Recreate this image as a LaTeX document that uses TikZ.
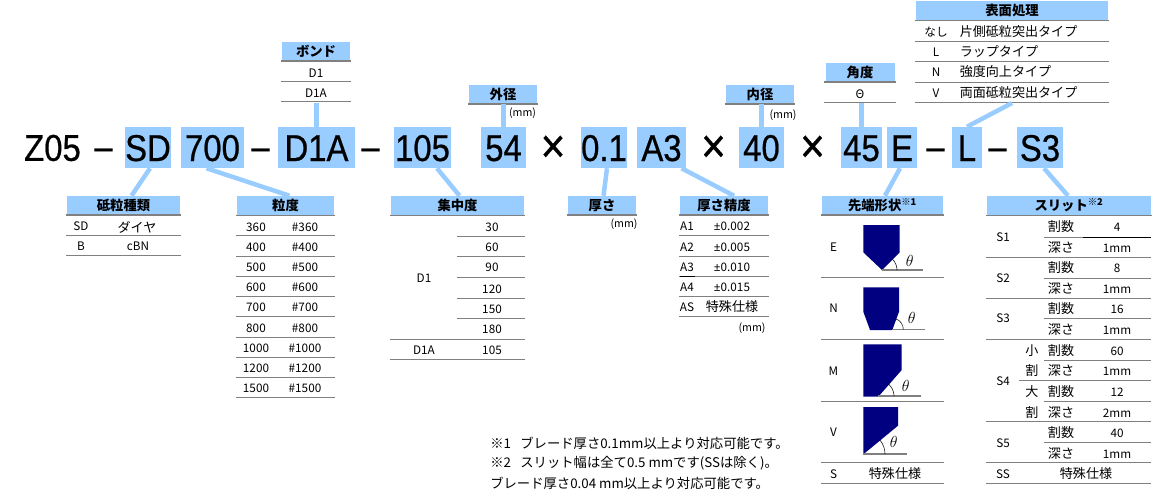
\documentclass[tikz,border=0pt]{standalone}
\usepackage{fontspec}
\setmainfont{Noto Sans CJK JP}
\newfontfamily\codefont[FakeStretch=0.88,FakeBold=0.6]{Liberation Sans}
\newfontfamily\signfont{Noto Sans}
\definecolor{headblue}{RGB}{153,204,255}
\definecolor{tipblue}{RGB}{0,0,128}
\definecolor{rulegray}{RGB}{128,128,128}
\newcommand{\px}{0.75pt}
\tikzset{
  codepart/.style={fill=headblue,inner sep=0pt,minimum height=41*\px,text height=27*\px,text depth=0pt,font=\codefont\fontsize{28}{28}\selectfont},
  codesep/.style={inner sep=0pt,font=\codefont\fontsize{28}{28}\selectfont},
  timesign/.style={inner sep=0pt,font=\codefont\fontsize{36}{36}\selectfont},
  head/.style={fill=headblue,inner sep=0pt,minimum height=19*\px,font=\fontsize{10}{10}\selectfont\bfseries},
  cell/.style={inner sep=0pt,font=\fontsize{8.8}{9}\selectfont},
  jpcell/.style={inner sep=0pt,font=\fontsize{9.8}{10}\selectfont},
  unit/.style={inner sep=0pt,font=\fontsize{8}{8}\selectfont},
  note/.style={inner sep=0pt,anchor=west,font=\fontsize{10}{10}\selectfont},
  rowline/.style={rulegray,line width=1*\px},
  link/.style={headblue,line width=4.5*\px},
  tipshape/.style={fill=tipblue},
  tipbase/.style={rulegray,line width=1.5*\px},
  anglemark/.style={inner sep=0pt,font=\large},
}
\begin{document}
\begin{tikzpicture}[x=\px,y=-\px]
    \useasboundingbox (0,0) rectangle (1152,496);
    % Product code
    \foreach \n/\x/\w/\t in {cSD/148/46/SD,cGrit/212.5/63/700,cBond/316.5/77/D1A,cConc/422.5/57/105,cOuter/503.5/45/54,cThick/604/46/0.1,cTol/661.5/49/A3,cInner/761.5/45/40,cAngle/861.5/41/45,cTip/902/30/E,cSurface/967/30/L,cSlit/1040/46/S3} {
      \node[codepart,minimum width=\w*\px] (\n) at (\x,147.5) {\t};
    }
    \node[codesep] (cZ) at (52.5,148) {Z05};
    \foreach \x [count=\i] in {103.5,260.5,370.5,935.5,997.5} {
      \node[codesep] (dash\i) at (\x,154) {–};
    }
    \foreach \x [count=\i] in {553,713.5,812.5} {
      \node[timesign] (times\i) at (\x,149) {×};
    }
    % Table heads with their rule
    \foreach \n/\x/\y/\w/\r/\t in {hBond/316/51/68/2/ボンド,hOuter/503/94/68/2/外径,hInner/760/94/68/2/内径,hAngle/860/72/69/2/角度,hSurface/1012/10.5/192/1.5/表面処理,hGrain/123.5/205.5/113/2/砥粒種類,hGrit/285.5/205.5/97/1/粒度,hConc/457.5/205.5/133/1/集中度,hThick/602/205.5/68/2/厚さ,hTol/724/205.5/88/2/厚さ精度,hTip/882.5/205.5/121/2/先端形状\textsuperscript{※1},hSlit/1069/205.5/164/1.5/スリット\textsuperscript{※2}} {
      \node[head,minimum width=\w*\px] (\n) at (\x,\y) {\t};
      \draw[rulegray,line width=\r*\px] ([xshift=-1*\px]\n.south west)--([xshift=1*\px]\n.south east);
    }
    % Bond
    \node[cell] (bond1) at (316,73) {D1};
    \node[cell] (bond2) at (316,93) {D1A};
    \foreach \y in {81,101} {
      \draw[rowline] (281,\y)--(351,\y);
    }
    % Outer and inner diameter, thickness units
    \node[unit] (unitOuter) at (522.5,113) {(mm)};
    \node[unit] (unitInner) at (783,115) {(mm)};
    \node[unit] (unitThick) at (624,224) {(mm)};
    % Angle
    \node[cell] (angle1) at (860,94) {Θ};
    \draw[rowline] (824,102)--(896,102);
    % Surface treatment
    \foreach \a/\b/\y [count=\i] in {なし/片側砥粒突出タイプ/32,L/ラップタイプ/52,N/強度向上タイプ/72,V/両面砥粒突出タイプ/93} {
      \node[cell] (surfA\i) at (936,\y) {\a};
      \node[jpcell,anchor=west] (surfB\i) at (959.5,\y) {\b};
    }
    \foreach \y in {41,61,82,102} {
      \draw[rowline] (915,\y)--(1109,\y);
    }
    % Abrasive type
    \node[cell] (grain1) at (81,226) {SD};
    \node[jpcell] (grain2) at (137,227) {ダイヤ};
    \node[cell] (grain3) at (81,246) {B};
    \node[cell] (grain4) at (138,246) {cBN};
    \foreach \y in {235,255} {
      \draw[rowline] (66,\y)--(181,\y);
    }
    % Grit
    \foreach \a/\y [count=\i] in {360/227,400/247,500/267,600/287,700/307,800/328,1000/348,1200/368,1500/388} {
      \node[cell] (gritA\i) at (256,\y) {\a};
      \node[cell] (gritB\i) at (305,\y) {\#\a};
    }
    \foreach \y in {235,256,276,296,316,337,357,377,397} {
      \draw[rowline] (236,\y)--(335,\y);
    }
    % Concentration
    \foreach \a/\y [count=\i] in {30/227,60/247,90/267,120/289,150/309,180/329,105/350} {
      \node[cell] (conc\i) at (492,\y) {\a};
    }
    \node[cell] (concD1) at (424,278) {D1};
    \node[cell] (concD1A) at (424,350) {D1A};
    \foreach \y in {236,256,277,298,318} {
      \draw[rowline] (457,\y)--(525,\y);
    }
    \foreach \y in {339,359} {
      \draw[rowline] (390,\y)--(525,\y);
    }
    % Thickness tolerance
    \foreach \a/\b/\y [count=\i] in {A1/0.002/226,A2/0.005/247,A3/0.010/267,A4/0.015/287} {
      \node[cell] (tolA\i) at (687,\y) {\a};
      \node[cell] (tolB\i) at (732,\y) {{\signfont ±}\b};
    }
    \node[cell] (tolA5) at (687,307) {AS};
    \node[jpcell] (tolB5) at (732,307) {特殊仕様};
    \node[unit] (unitTol) at (752,328) {(mm)};
    \foreach \y in {235,256,276,296,316} {
      \draw[rowline] (679,\y)--(769,\y);
    }
    \draw[black,line width=1*\px] (680,276)--(695,276);
    % Tip shape
    \foreach \a/\y [count=\i] in {E/247,N/308,M/371,V/432,S/474} {
      \node[cell] (tip\i) at (833.5,\y) {\a};
    }
    \node[jpcell] (tipS) at (895,474) {特殊仕様};
    \foreach \y in {277,339,401,462,483} {
      \draw[rowline] (821,\y)--(944,\y);
    }
    \fill[tipshape] (863.3,225)--(899.7,225)--(899.7,252.3)--(882,270)--(863.3,252.3)--cycle;
    \draw[tipbase] (882,270)--(922.7,270);
    \draw (897,270) arc[start angle=0,end angle=-45,radius=15];
    \node[anglemark] (thetaE) at (909.7,260.7) {$\theta$};
    \fill[tipshape] (863.3,287.3)--(899,287.3)--(899,311.7)--(892.3,330)--(870,330)--(863.3,311.7)--cycle;
    \draw[tipbase] (892.3,329.3)--(924.7,329.3);
    \draw (903.3,329.3) arc[start angle=0,end angle=-70,radius=11];
    \node[anglemark] (thetaN) at (911.7,317.7) {$\theta$};
    \fill[tipshape] (863.3,344.3)--(901.7,344.3)--(901.7,370)--(878.3,396.7)--(863.3,396.7)--cycle;
    \draw[tipbase] (878.3,396)--(920.7,396);
    \draw (894,396) arc[start angle=0,end angle=-49,radius=15.7];
    \node[anglemark] (thetaM) at (905.7,385.7) {$\theta$};
    \fill[tipshape] (863.3,407)--(898,407)--(898,425.7)--(863.3,454.3)--cycle;
    \draw[tipbase] (863.3,454)--(906.7,454);
    \draw (885,454) arc[start angle=0,end angle=-40,radius=21.7];
    \node[anglemark] (thetaV) at (893.7,442.3) {$\theta$};
    % Slit
    \foreach \a/\y [count=\i] in {S1/237,S2/278,S3/318,S4/381,S5/443,SS/474} {
      \node[cell] (slit\i) at (1003,\y) {\a};
    }
    \foreach \a/\b/\y [count=\i] in {割数/4/227,深さ/1mm/248,割数/8/268,深さ/1mm/289,割数/16/309,深さ/1mm/330,割数/60/351,深さ/1mm/371,割数/12/392,深さ/2mm/413,割数/40/433,深さ/1mm/454} {
      \node[jpcell] (slitA\i) at (1061,\y) {\a};
      \node[cell] (slitB\i) at (1117,\y) {\b};
    }
    \foreach \a/\y [count=\i] in {小/351,割/371,大/392,割/413} {
      \node[jpcell] (slitC\i) at (1032,\y) {\a};
    }
    \node[jpcell] (slitS) at (1086,474) {特殊仕様};
    \foreach \y in {257,298,339,421,462,483} {
      \draw[rowline] (986,\y)--(1151,\y);
    }
    \foreach \y in {278,318,360,401,442} {
      \draw[rowline] (1044,\y)--(1151,\y);
    }
    \draw[rowline] (1019,380)--(1151,380);
    \draw[rowline] (1044,237)--(1083,237);
    \draw[black,line width=1*\px] (1083,237)--(1151,237);
    % Notes
    \node[note] (note1) at (490,443) {※1\hspace{7pt}ブレード厚さ0.1mm以上より対応可能です。};
    \node[note] (note2) at (490,463) {※2\hspace{7pt}スリット幅は全て0.5 mmです(SSは除く)。};
    \node[note] (note3) at (490,483) {ブレード厚さ0.04 mm以上より対応可能です。};
    % Links from the code to the tables
    \draw[link] ([xshift=2*\px]cSD.south)--([xshift=8*\px]hGrain.north);
    \draw[link] ([xshift=-6*\px]cGrit.south)--([xshift=4*\px]hGrit.north);
    \draw[link] ([xshift=14.5*\px]cConc.south)--([xshift=2*\px]hConc.north);
    \draw[link] ([xshift=3*\px]cThick.south)--([xshift=1.5*\px]hThick.north);
    \draw[link] ([xshift=20*\px]cTol.south)--([xshift=10*\px]hTol.north);
    \draw[link] ([xshift=-2*\px]cTip.south)--([xshift=2.5*\px]hTip.north);
    \draw[link] ([xshift=4*\px]cSlit.south)--([xshift=-1*\px]hSlit.north);
    \draw[link] (cBond.north)--++(0,-24);
    \draw[link] (cOuter.north)--(hOuter.south-|cOuter.north);
    \draw[link] (cInner.north)--(hInner.south-|cInner.north);
    \draw[link] (cAngle.north)--++(0,-24);
    \draw[link] (cSurface.north)--(1012,103);
\end{tikzpicture}
\end{document}
